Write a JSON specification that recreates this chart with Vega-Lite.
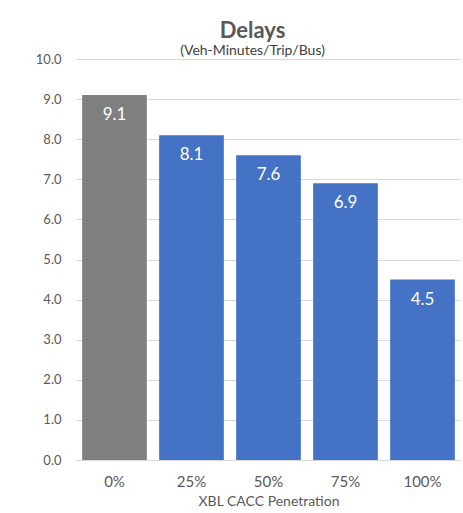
{
  "$schema": "https://vega.github.io/schema/vega-lite/v6.json",
  "autosize": "none",
  "width": 385,
  "height": 401,
  "padding": {"left": 76, "top": 59, "right": 2, "bottom": 53},
  "background": "white",
  "config": {
    "font": "Lato",
    "view": {"stroke": null},
    "axis": {"labelColor": "#595959", "titleColor": "#595959", "labelFontSize": 13, "titleFontSize": 14, "titleFontWeight": "normal"}
  },
  "title": {
    "text": "Delays",
    "subtitle": "(Veh-Minutes/Trip/Bus)",
    "fontSize": 22,
    "fontWeight": "bold",
    "color": "#595959",
    "subtitleFontSize": 14,
    "subtitleColor": "#404040",
    "subtitlePadding": 1,
    "anchor": "middle",
    "dx": -16,
    "offset": -6
  },
  "data": {
    "values": [
      {"penetration": "0%", "delay": 9.1},
      {"penetration": "25%", "delay": 8.1},
      {"penetration": "50%", "delay": 7.6},
      {"penetration": "75%", "delay": 6.9},
      {"penetration": "100%", "delay": 4.5}
    ]
  },
  "encoding": {
    "x": {
      "field": "penetration",
      "type": "nominal",
      "sort": null,
      "title": "XBL CACC Penetration",
      "scale": {"paddingInner": 0.16, "paddingOuter": 0.08},
      "axis": {"labelAngle": 0, "labelFontSize": 15, "ticks": false, "domainColor": "#d9d9d9", "labelPadding": 14, "titlePadding": 5}
    },
    "y": {
      "field": "delay",
      "type": "quantitative",
      "title": null,
      "scale": {"domain": [0, 10]},
      "axis": {"values": [0,1,2,3,4,5,6,7,8,9,10], "format": ".1f", "domain": false, "ticks": false, "gridColor": "#d9d9d9", "labelPadding": 15}
    }
  },
  "layer": [
    {
      "mark": {"type": "bar"},
      "encoding": {
        "color": {"condition": {"test": "datum.penetration === '0%'", "value": "#7f7f7f"}, "value": "#4472c4"}
      }
    },
    {
      "mark": {"type": "text", "color": "white", "fontSize": 17, "baseline": "top", "dy": 12},
      "encoding": {"text": {"field": "delay", "type": "quantitative", "format": ".1f"}}
    }
  ]
}
